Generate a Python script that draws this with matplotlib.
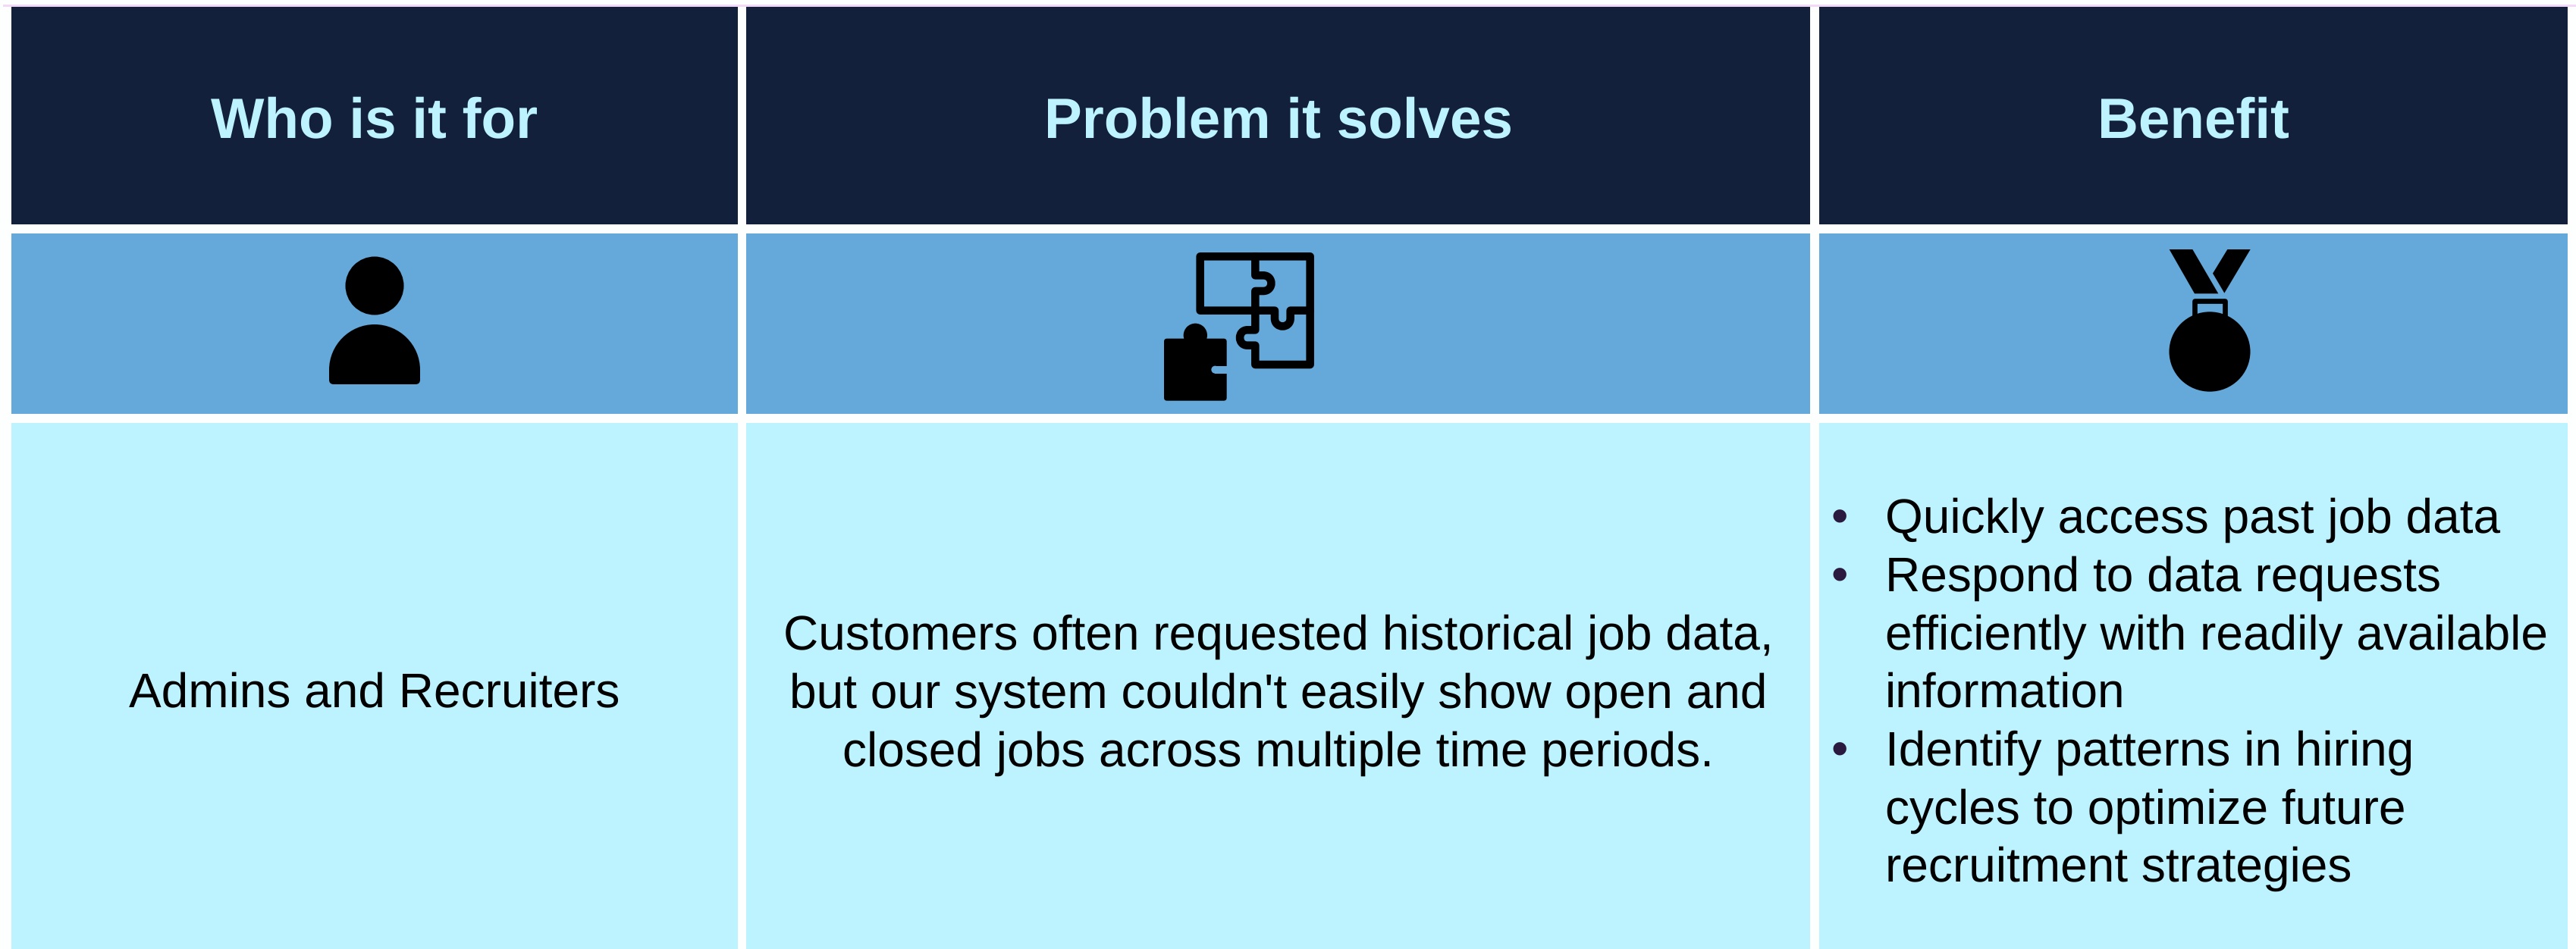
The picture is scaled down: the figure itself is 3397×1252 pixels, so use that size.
import matplotlib
matplotlib.use('Agg')
import matplotlib.pyplot as plt
from matplotlib.patches import Rectangle, Circle, Ellipse, PathPatch, Polygon, FancyBboxPatch
from matplotlib.path import Path

plt.rcParams['font.family'] = ['Liberation Sans', 'DejaVu Sans']
plt.rcParams['text.hinting'] = 'no_hinting'

# Table contents
headers = ['Who is it for', 'Problem it solves', 'Benefit']
who_lines = ['Admins and Recruiters']
problem_lines = ['Customers often requested historical job data,',
                 "but our system couldn't easily show open and",
                 'closed jobs across multiple time periods.']
benefit_lines = ['Quickly access past job data',
                 'Respond to data requests',
                 'efficiently with readily available',
                 'information',
                 'Identify patterns in hiring',
                 'cycles to optimize future',
                 'recruitment strategies']
bullet_starts = [0, 1, 4]

# Layout in pixels of the reference
col_edges = [(15, 973), (984, 2387), (2399, 3386)]
row_edges = [(9, 296), (308, 546), (558, 1252)]
row_colors = ['#12203C', '#65A8DA', '#BDF2FF']

fig = plt.figure(figsize=(33.97, 12.52), dpi=100, facecolor='#FDFFFF')
ax = fig.add_axes([0, 0, 1, 1])
ax.set_xlim(0, 3397)
ax.set_ylim(1252, 0)
ax.axis('off')

# Thin pink line on top
ax.add_patch(Rectangle((4, 6), 3393, 2.5, fc='#F2D9F8', ec='none'))

# Cells
for (x0, x1) in col_edges:
    for (y0, y1), c in zip(row_edges, row_colors):
        ax.add_patch(Rectangle((x0, y0), x1 - x0, y1 - y0, fc=c, ec='none'))

# Header text
for (x0, x1), h in zip(col_edges, headers):
    ax.text((x0 + x1) / 2, 182, h, color='#BDF2FF', fontsize=53.7, fontweight='bold',
            ha='center', va='baseline')

# Body text
body_size = 46.1
ax.text(494, 933, who_lines[0], fontsize=body_size, ha='center', va='baseline', color='black')
for i, line in enumerate(problem_lines):
    ax.text(1685.5, 857 + i * 77, line, fontsize=body_size, ha='center', va='baseline', color='black')
for i, line in enumerate(benefit_lines):
    y = 703 + i * 76.7
    ax.text(2486, y, line, fontsize=body_size, ha='left', va='baseline', color='black')
    if i in bullet_starts:
        ax.text(2426, y, '\u2022', fontsize=body_size, ha='center', va='baseline', color='#2A1A40')


# Person icon
ax.add_patch(Circle((494, 377), 38.5, fc='black', ec='none'))
body = Path([(434, 488), (434, 455), (461, 428), (494, 428), (527, 428), (554, 455), (554, 488),
             (554, 501), (554, 507), (548, 507), (440, 507), (434, 507), (434, 501), (434, 488)],
            [Path.MOVETO, Path.CURVE4, Path.CURVE4, Path.CURVE4, Path.CURVE4, Path.CURVE4, Path.CURVE4,
             Path.LINETO, Path.CURVE3, Path.CURVE3, Path.LINETO, Path.CURVE3, Path.CURVE3, Path.CLOSEPOLY])
ax.add_patch(PathPatch(body, fc='black', ec='none'))


# Puzzle icon, coordinates local to the crop (3x scale)
def pz(x, y):
    return (1500 + x / 3, 310 + y / 3)


def line_path(points, codes):
    return Path([pz(*p) for p in points], codes)


M, L, C = Path.MOVETO, Path.LINETO, Path.CURVE4
stroke = dict(fc='none', ec='black', lw=7.6, joinstyle='round', capstyle='round')

# outer frame with the lower left bump
frame_pts = [(466, 85), (248, 85), (248, 299), (466, 299), (466, 376), (435, 376),
             (395, 376), (395, 437), (435, 437), (466, 437), (466, 513), (683, 513), (683, 85), (466, 85)]
frame_codes = [M, L, L, L, L, L, C, C, C, L, L, L, L, L]
ax.add_patch(PathPatch(line_path(frame_pts, frame_codes), **stroke))

# middle vertical with right bump
vert_pts = [(466, 85), (466, 160), (497, 160), (540, 160), (540, 222), (497, 222), (466, 222), (466, 299)]
vert_codes = [M, L, L, C, C, C, L, L]
ax.add_patch(PathPatch(line_path(vert_pts, vert_codes), **stroke))

# middle horizontal with lower bump
horiz_pts = [(466, 299), (543, 299), (543, 330), (543, 372), (605, 372), (605, 330), (605, 299), (683, 299)]
horiz_codes = [M, L, L, C, C, C, L, L]
ax.add_patch(PathPatch(line_path(horiz_pts, horiz_codes), **stroke))

# solid piece
ax.add_patch(FancyBboxPatch(pz(117, 422), 224 / 3, 222 / 3, boxstyle='round,pad=4,rounding_size=4',
                            fc='black', ec='none'))
ax.add_patch(Circle(pz(229, 397), 47 / 3, fc='black', ec='none'))
ax.add_patch(Rectangle(pz(307, 518), 60 / 3, 10, fc='#65A8DA', ec='none'))
ax.add_patch(Circle(pz(307, 533), 5, fc='#65A8DA', ec='none'))


# Medal icon, coordinates local to the crop (3x scale)
def md(x, y):
    return (2820 + x / 3, 310 + y / 3)


ax.add_patch(Polygon([md(122, 57), md(214, 57), md(316, 232), md(222, 232)], fc='black', ec='none'))
ax.add_patch(Polygon([md(352, 57), md(443, 57), md(340, 230), md(294, 152)], fc='black', ec='none'))
ax.add_patch(Ellipse(md(282, 462), 321 / 3, 316 / 3, fc='black', ec='none'))
loop = Path([md(222, 325), md(222, 262), md(342, 262), md(342, 325)], [M, L, L, L])
ax.add_patch(PathPatch(loop, fc='none', ec='black', lw=4.8, joinstyle='round'))

fig.savefig('out.png', dpi=100, facecolor=fig.get_facecolor())
